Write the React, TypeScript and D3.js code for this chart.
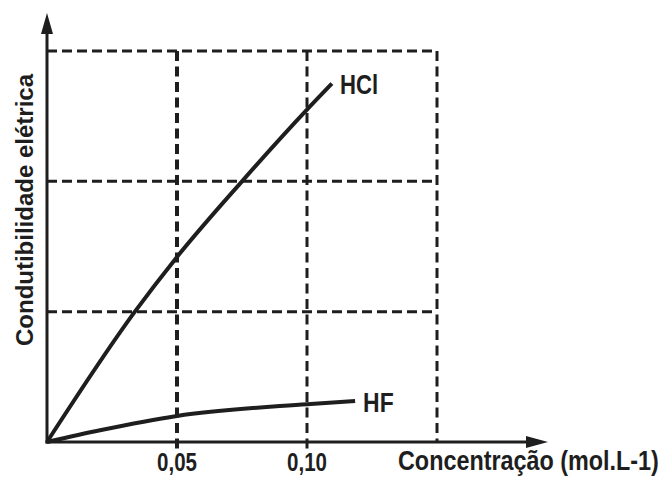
import React from "react";
import * as d3 from "d3";

// concentração (mol/L) e condutibilidade (unidades arbitrárias da grade)
const hclConc = [0, 0.0338, 0.05, 0.075, 0.1, 0.1096];
const hclCond = [0, 1.0, 1.42, 2.0, 2.55, 2.75];
const hfConc = [0, 0.0204, 0.05, 0.1, 0.1185];
const hfCond = [0, 0.09, 0.2, 0.29, 0.315];

const xGrid = [0.05, 0.1, 0.15];
const yGrid = [1, 2, 3];
const xTicks = [0.05, 0.1];
const xTickLabels = ["0,05", "0,10"];

const W = 664;
const H = 477;
const ink = "#1e1e1e";
const sans = "'Liberation Sans', Arial, sans-serif";
const squeeze = 0.82; // fonte condensada

function NarrowText(props: {
  x: number;
  y: number;
  size: number;
  anchor?: "start" | "middle";
  children: React.ReactNode;
}) {
  return (
    <text
      transform={`translate(${props.x},${props.y}) scale(${squeeze},1)`}
      textAnchor={props.anchor ?? "start"}
      fontFamily={sans}
      fontWeight="bold"
      fontSize={props.size}
      fill={ink}
    >
      {props.children}
    </text>
  );
}

export default function App() {
  const x = d3.scaleLinear().domain([0, 0.15]).range([47, 437]);
  const y = d3.scaleLinear().domain([0, 3]).range([442, 51]);

  const line = d3
    .line<[number, number]>()
    .x((d) => x(d[0]))
    .y((d) => y(d[1]))
    .curve(d3.curveMonotoneX);

  const hcl = hclConc.map((c, i) => [c, hclCond[i]] as [number, number]);
  const hf = hfConc.map((c, i) => [c, hfCond[i]] as [number, number]);

  const x0 = x(0);
  const y0 = y(0);
  const yTop = 13;
  const xEnd = 548;
  const hclEnd = hcl[hcl.length - 1];
  const hfEnd = hf[hf.length - 1];

  return (
    <svg
      width={W}
      height={H}
      style={{ position: "absolute", left: 0, top: 0, background: "#fff" }}
    >
      {/* grade tracejada */}
      {yGrid.map((v) => (
        <line
          key={"h" + v}
          x1={x0}
          x2={x(0.15)}
          y1={y(v)}
          y2={y(v)}
          stroke={ink}
          strokeWidth={3}
          strokeDasharray="10,5"
        />
      ))}
      {xGrid.map((v, i) => (
        <line
          key={"v" + v}
          x1={x(v)}
          x2={x(v)}
          y1={y(3)}
          y2={i < 2 ? y0 + 10 : y0}
          stroke={ink}
          strokeWidth={i === 0 ? 4 : 3}
          strokeDasharray="10,5.5"
        />
      ))}

      {/* eixos */}
      <line x1={x0} x2={x0} y1={y0 + 1.5} y2={yTop + 16} stroke={ink} strokeWidth={3} />
      <path d={`M${x0},${yTop} L${x0 - 6},${yTop + 21} L${x0 + 6},${yTop + 21} Z`} fill={ink} />
      <line x1={x0 - 1.5} x2={xEnd - 16} y1={y0} y2={y0} stroke={ink} strokeWidth={3} />
      <path d={`M${xEnd},${y0} L${xEnd - 22},${y0 - 6} L${xEnd - 22},${y0 + 6} Z`} fill={ink} />

      {/* curvas */}
      <path d={line(hcl) ?? ""} fill="none" stroke={ink} strokeWidth={4} />
      <path d={line(hf) ?? ""} fill="none" stroke={ink} strokeWidth={4} />

      <NarrowText x={x(hclEnd[0]) + 8} y={y(hclEnd[1]) + 10} size={27}>
        HCl
      </NarrowText>
      <NarrowText x={x(hfEnd[0]) + 8} y={y(hfEnd[1]) + 11} size={28}>
        HF
      </NarrowText>

      {/* rótulos */}
      {xTicks.map((v, i) => (
        <NarrowText key={"t" + v} x={x(v)} y={471} size={25} anchor="middle">
          {xTickLabels[i]}
        </NarrowText>
      ))}
      <NarrowText x={398} y={470} size={28.5}>
        Concentração (mol.L-1)
      </NarrowText>
      <text
        transform={`translate(33,210) rotate(-90)`}
        textAnchor="middle"
        fontFamily={sans}
        fontWeight="bold"
        fontSize={24}
        fill={ink}
      >
        Condutibilidade elétrica
      </text>
    </svg>
  );
}
